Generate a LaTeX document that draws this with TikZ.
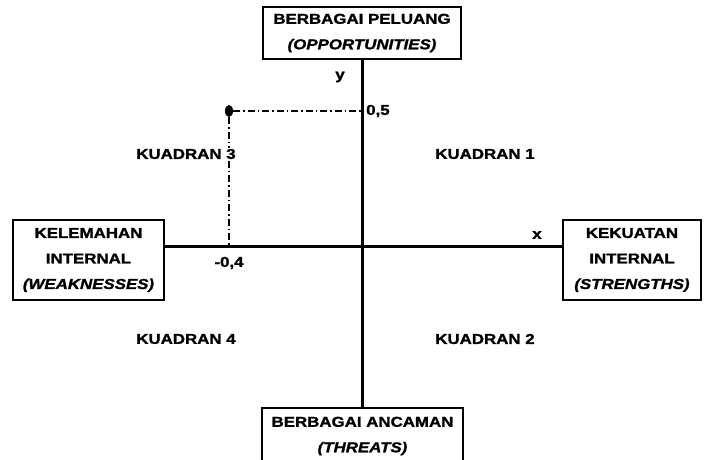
\documentclass[tikz,border=0pt]{standalone}
\usepackage{fontspec}
\setmainfont{Liberation Sans}[FakeStretch=1.18,BoldFeatures={FakeBold=1.5},BoldItalicFeatures={FakeBold=1.5}]
\usetikzlibrary{shapes.geometric}
\begin{document}
\begin{tikzpicture}[x=1pt,y=-1pt,
  box/.style={draw,line width=1.8pt,rectangle,align=center,inner sep=0pt,
    font=\bfseries\fontsize{14.3}{25.5}\selectfont},
  axis/.style={line width=3pt},
  guide/.style={line width=1.2pt,dash pattern=on 7pt off 3pt on 1.5pt off 3pt},
  lab/.style={font=\bfseries\fontsize{14.3}{15}\selectfont,inner sep=0pt}]
\useasboundingbox (0,0) rectangle (704,460);
\clip (0,0) rectangle (704,460);
\node[box,minimum width=198pt,minimum height=52pt] (top) at (362,33) {BERBAGAI PELUANG\\\textit{(OPPORTUNITIES)}};
\node[box,minimum width=201pt,minimum height=56pt] (bot) at (362.5,436) {BERBAGAI ANCAMAN\\\textit{(THREATS)}};
\node[box,minimum width=151pt,minimum height=80pt] (left) at (88.5,260) {KELEMAHAN\\INTERNAL\\\textit{(WEAKNESSES)}};
\node[box,minimum width=138pt,minimum height=80pt] (right) at (632,260) {KEKUATAN\\INTERNAL\\\textit{(STRENGTHS)}};
\coordinate (O) at (362,246);
\coordinate (yv) at (362,111);
\coordinate (xv) at (229,246);
\draw[axis] (top.south -| O) -- (bot.north -| O);
\draw[axis] (left.east |- O) -- (right.west |- O);
\node[fill,ellipse,minimum width=8pt,minimum height=12pt,inner sep=0pt] (pt) at (229,111) {};
\draw[guide] (pt) -- (yv);
\draw[guide] (pt) -- (xv);
\node[lab,anchor=west] (v05) at (366,111) {0,5};
\node[lab] (vm04) at (229,263) {-0,4};
\node[lab] (ylab) at (340,77) {y};
\node[lab] (xlab) at (537,235) {x};
\node[lab,fill=white,inner sep=1pt] (q3) at (186,154) {KUADRAN 3};
\node[lab] (q1) at (485,154) {KUADRAN 1};
\node[lab] (q4) at (186,339) {KUADRAN 4};
\node[lab] (q2) at (485,339) {KUADRAN 2};
\end{tikzpicture}
\end{document}
